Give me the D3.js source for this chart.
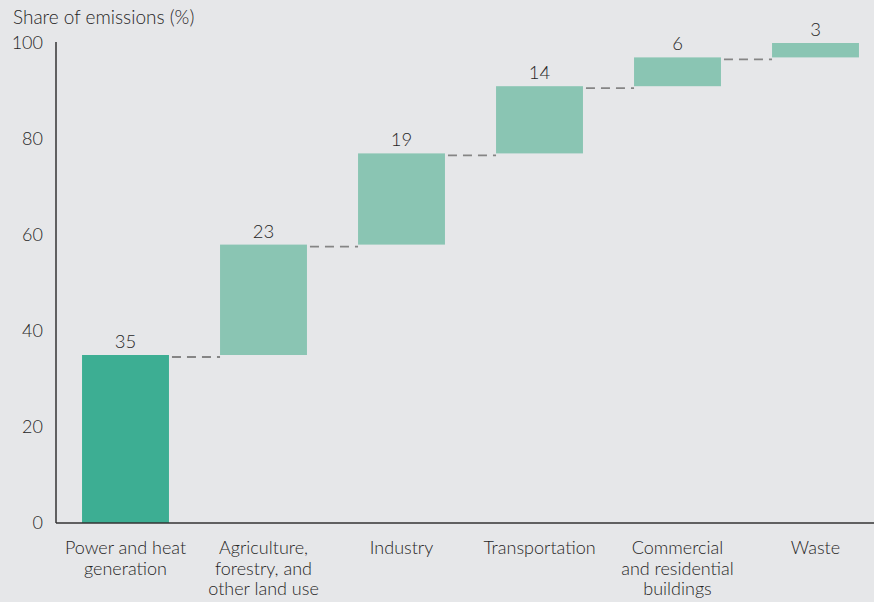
<!DOCTYPE html>
<html>
<head>
<meta charset="utf-8">
<script src="https://cdn.jsdelivr.net/npm/d3@7"></script>
<style>
  body { margin: 0; background: #e6e7e9; }
  svg { display: block; font-family: Lato, "Open Sans", sans-serif; font-weight: 300; }
</style>
</head>
<body>
<div id="chart-area"></div>
<script>
var categories = [
    ["Power and heat", "generation"],
    ["Agriculture,", "forestry, and", "other land use"],
    ["Industry"],
    ["Transportation"],
    ["Commercial", "and residential", "buildings"],
    ["Waste"]
];
var shares = [35, 23, 19, 14, 6, 3];
var yTicks = [0, 20, 40, 60, 80, 100];

var width = 874, height = 602;
var margin = {top: 43, left: 56, bottom: 79};
var textColor = "#262626";

var dataset = [];
var running = 0;
shares.forEach(function(v, i) {
    dataset.push({name: categories[i], key: i, start: running, end: running + v, value: v});
    running += v;
});

var svg = d3.select("#chart-area").append("svg")
    .attr("width", width)
    .attr("height", height);

var xScale = d3.scaleBand()
    .domain(dataset.map(function(d) { return d.key; }))
    .range([margin.left + 0.5, margin.left + 0.5 + 828])
    .paddingInner(0.37)
    .paddingOuter(0.185);

var yScale = d3.scaleLinear()
    .domain([0, 100])
    .range([height - margin.bottom, margin.top]);

// connectors
svg.selectAll("line.conn").data(dataset.slice(0, -1)).enter().append("line")
    .attr("class", "conn")
    .attr("x1", function(d) { return xScale(d.key) + xScale.bandwidth() + 3; })
    .attr("x2", function(d) { return xScale(d.key + 1); })
    .attr("y1", function(d) { return yScale(d.end) + 2; })
    .attr("y2", function(d) { return yScale(d.end) + 2; })
    .style("stroke", "#858585")
    .style("stroke-width", 1.8)
    .style("stroke-dasharray", "9,6");

svg.selectAll("rect.bar").data(dataset).enter().append("rect")
    .attr("class", "bar")
    .attr("x", function(d) { return xScale(d.key); })
    .attr("width", xScale.bandwidth())
    .attr("y", function(d) { return yScale(d.end); })
    .attr("height", function(d) { return yScale(d.start) - yScale(d.end); })
    .style("fill", function(d, i) { return i === 0 ? "#3dae93" : "#8ac5b3"; });

svg.selectAll("text.val").data(dataset).enter().append("text")
    .attr("class", "val")
    .attr("x", function(d) { return xScale(d.key) + xScale.bandwidth() / 2; })
    .attr("y", function(d) { return yScale(d.end) - 7; })
    .attr("text-anchor", "middle")
    .style("font-size", "18.5px")
    .style("fill", textColor)
    .text(function(d) { return d.value; });

// y axis
var yAxis = svg.append("g")
    .attr("transform", "translate(" + margin.left + ",0)")
    .call(d3.axisLeft(yScale).tickValues(yTicks).tickSize(0).tickPadding(13));
yAxis.select(".domain").attr("stroke", "#333").attr("stroke-width", 1.5)
    .attr("d", "M0," + (margin.top - 1) + "V" + yScale(0));
yAxis.selectAll("text").style("font-size", "18px").style("fill", textColor)
    .style("font-family", "Lato, 'Open Sans', sans-serif").style("font-weight", 300);

// x axis
svg.append("line")
    .attr("x1", margin.left)
    .attr("x2", width)
    .attr("y1", yScale(0))
    .attr("y2", yScale(0))
    .style("stroke", "#333")
    .style("stroke-width", 1.5);

var labels = svg.selectAll("text.cat").data(dataset).enter().append("text")
    .attr("class", "cat")
    .attr("text-anchor", "middle")
    .attr("x", function(d) { return xScale(d.key) + xScale.bandwidth() / 2; })
    .attr("y", yScale(0) + 31)
    .style("font-size", "18px")
    .style("fill", textColor);
labels.selectAll("tspan").data(function(d) { return d.name.map(function(t) { return {t: t, x: xScale(d.key) + xScale.bandwidth() / 2}; }); })
    .enter().append("tspan")
    .attr("x", function(d) { return d.x; })
    .attr("dy", function(d, i) { return i === 0 ? 0 : 20.5; })
    .text(function(d) { return d.t; });

svg.append("text")
    .attr("x", 13)
    .attr("y", 24)
    .style("font-size", "19px")
    .style("fill", textColor)
    .text("Share of emissions (%)");
</script>
</body>
</html>
